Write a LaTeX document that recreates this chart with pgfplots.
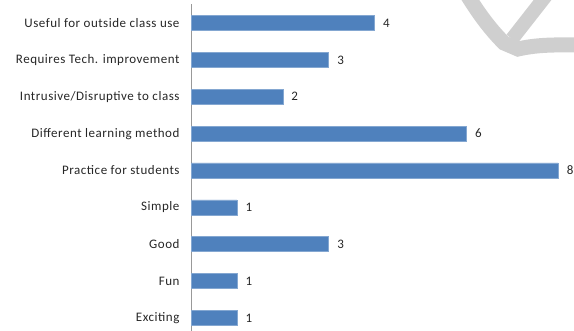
\documentclass[border=0pt]{standalone}
\usepackage{pgfplots}
\pgfplotsset{compat=1.18}
\usepackage{fontspec}
\setmainfont[LetterSpace=4.0]{Carlito}
\definecolor{barblue}{HTML}{4F81BD}
\definecolor{txt}{HTML}{262626}
\begin{document}
\fontsize{13bp}{15bp}\selectfont
\begin{tikzpicture}
\useasboundingbox (0bp,0bp) rectangle (574bp,331bp);
\begin{scope}
\clip (0bp,0bp) rectangle (574bp,331bp);
\draw[line width=15bp, color=black!19, line cap=butt, line join=miter]
  (466bp,338bp) .. controls (480bp,315bp) and (492bp,300bp) .. (504bp,288bp) -- (518bp,282bp) .. controls (540bp,287bp) and (560bp,286bp) .. (580bp,286bp);
\draw[line width=14bp, color=black!19] (548bp,338bp) -- (512bp,292bp);
\end{scope}
\begin{axis}[
  at={(191bp,0bp)}, anchor=south west,
  scale only axis,
  width=383bp, height=327bp,
  xmin=0, xmax=8.344,
  ymin=-0.3525, ymax=8.5153,
  axis x line=none,
  axis y line*=left,
  y axis line style={-, draw=black!40, line width=0.8bp},
  major tick length=0pt,
  ytick={0,...,8},
  yticklabels={Exciting,Fun,Good,Simple,Practice for students,Different learning method,Intrusive/Disruptive to class,Requires Tech. improvement,Useful for outside class use},
  yticklabel style={font=\fontsize{13bp}{15bp}\selectfont, text=txt, xshift=-7bp},
  xbar, bar width=15bp,
  nodes near coords,
  every node near coord/.append style={font=\fontsize{13bp}{15bp}\selectfont, text=txt, anchor=west, xshift=4bp},
  /pgf/number format/assume math mode=true,
  clip=false,
]
\addplot[fill=barblue, draw=barblue!70!white, line width=0.6bp] coordinates {
  (1,0) (1,1) (3,2) (1,3) (8,4) (6,5) (2,6) (3,7) (4,8)
};
\end{axis}
\end{tikzpicture}
\end{document}
